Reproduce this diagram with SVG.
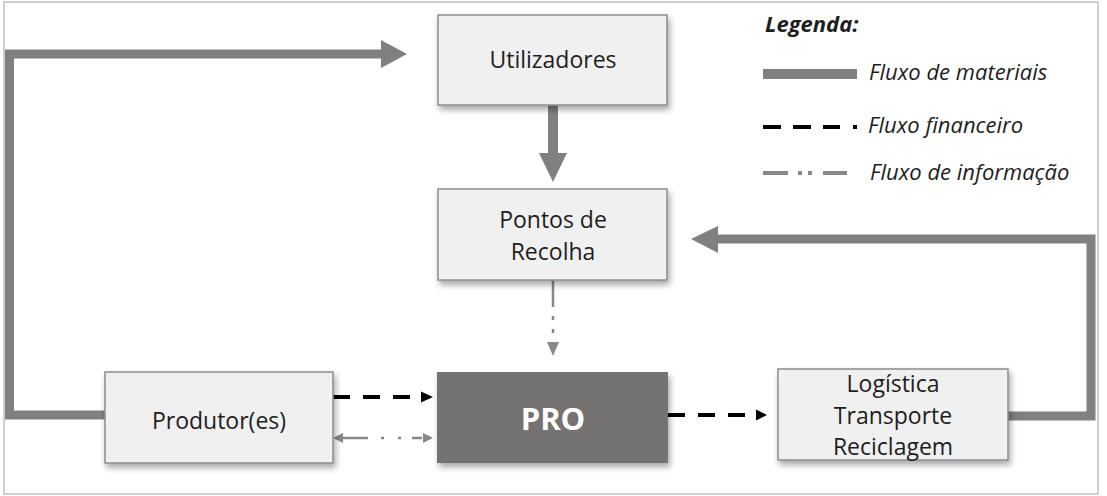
<svg xmlns="http://www.w3.org/2000/svg" width="1107" height="496" viewBox="0 0 1107 496">
<style>
.box{fill:#f0f0f0;stroke:#8c8c8c;stroke-width:1.5;}
.lbl{font-family:"Open Sans","Liberation Sans",sans-serif;font-size:23px;fill:#1e1e1e;text-anchor:middle;}
.leg{font-family:"Open Sans","Liberation Sans",sans-serif;font-size:22px;font-style:italic;fill:#1e1e1e;}
.mat{fill:none;stroke:#808080;stroke-width:9;stroke-linejoin:miter;}
.fin{fill:none;stroke:#000;stroke-width:4;stroke-dasharray:17 13;}
.info{fill:none;stroke:#888;stroke-width:2.5;}
</style>
<defs>
<filter id="sh" x="-10%" y="-10%" width="130%" height="140%">
<feDropShadow dx="2" dy="4" stdDeviation="3" flood-color="#000" flood-opacity="0.35"/>
</filter>
</defs>
<rect x="4" y="2" width="1094" height="492" fill="#fff" stroke="#c0c0c0" stroke-width="1.5"/>
<g id="connectors">
<path class="mat" d="M105,415 H9.5 V54 H382"/>
<polygon points="381,40 407,54 381,68" fill="#808080"/>
<rect x="548" y="105" width="10" height="49" fill="#808080"/>
<polygon points="539,153 567,153 553,182" fill="#808080"/>
<path class="mat" d="M1008,416 H1091 V239 H717"/>
<polygon points="718,226 718,253 691,239" fill="#808080"/>
<line class="fin" x1="333" y1="397" x2="421" y2="397"/>
<polygon points="421,391.5 433,397 421,402.5" fill="#000"/>
<line class="fin" x1="668" y1="415" x2="756" y2="415"/>
<polygon points="756,409.5 767,415 756,420.5" fill="#000"/>
<line class="info" x1="343" y1="438" x2="424" y2="438" stroke-dasharray="25 13 3 14 3 11 10 10"/>
<polygon points="343,433 333,438 343,443" fill="#888"/>
<polygon points="423,433 433,438 423,443" fill="#888"/>
<line class="info" x1="553" y1="280" x2="553" y2="343" stroke-dasharray="27 9 4 9 4 30"/>
<polygon points="547,342 559,342 553,356" fill="#888"/>
</g>
<g id="utilizadores">
<rect class="box" x="438" y="15" width="229" height="90" filter="url(#sh)"/>
<text class="lbl" x="553" y="68">Utilizadores</text>
</g>
<g id="pontos">
<rect class="box" x="438" y="189" width="229" height="91" filter="url(#sh)"/>
<text class="lbl" x="553" y="228">Pontos de</text>
<text class="lbl" x="553" y="260">Recolha</text>
</g>
<g id="produtor">
<rect class="box" x="105" y="372" width="228" height="91" filter="url(#sh)"/>
<text class="lbl" x="219" y="429">Produtor(es)</text>
</g>
<g id="pro">
<rect x="437" y="372" width="231" height="91" fill="#747272" filter="url(#sh)"/>
<text x="553" y="430" font-family="'Open Sans','Liberation Sans',sans-serif" font-size="31" font-weight="bold" fill="#fff" text-anchor="middle">PRO</text>
</g>
<g id="logistica">
<rect class="box" x="778" y="369" width="230" height="91" filter="url(#sh)"/>
<text class="lbl" x="893" y="392">Logística</text>
<text class="lbl" x="893" y="424">Transporte</text>
<text class="lbl" x="893" y="455">Reciclagem</text>
</g>
<g id="legend">
<text class="leg" x="765" y="32" font-weight="bold" font-size="19">Legenda:</text>
<line x1="763" y1="74" x2="857" y2="74" stroke="#808080" stroke-width="10"/>
<text class="leg" x="869" y="80">Fluxo de materiais</text>
<line x1="763" y1="127" x2="857" y2="127" stroke="#000" stroke-width="4" stroke-dasharray="18 12 18 12 17 13 4 100"/>
<text class="leg" x="868" y="133">Fluxo financeiro</text>
<line x1="763" y1="173" x2="847" y2="173" stroke="#888" stroke-width="4" stroke-dasharray="25 10 4 6 4 11 24 10"/>
<text class="leg" x="870" y="180">Fluxo de informação</text>
</g>
</svg>
